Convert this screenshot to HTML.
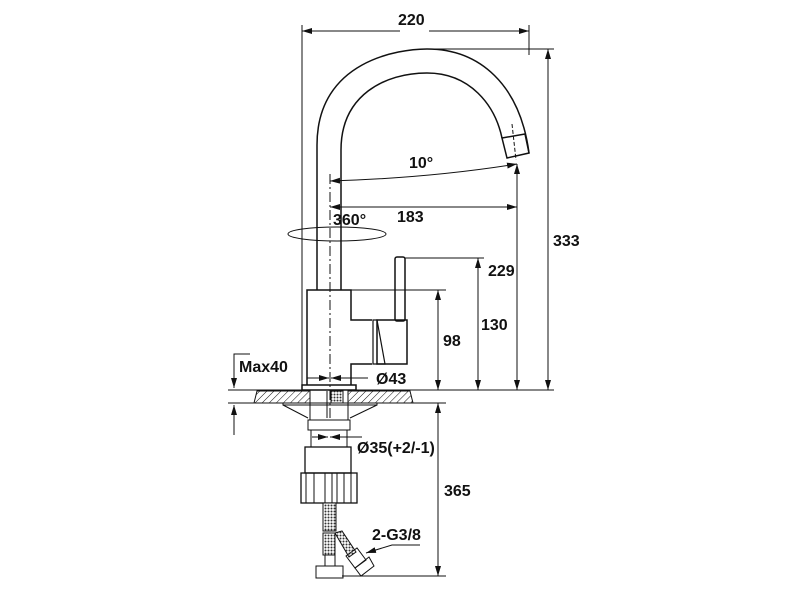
<!DOCTYPE html>
<html><head><style>html,body{margin:0;background:#fff}svg{display:block}text{font-family:"Liberation Sans",sans-serif;font-weight:bold;font-size:16px;fill:#111}</style></head><body>
<svg width="800" height="600" viewBox="0 0 800 600" xmlns="http://www.w3.org/2000/svg">
<defs>
<marker id="a" viewBox="0 0 10 6" refX="10" refY="3" markerWidth="10" markerHeight="6" orient="auto-start-reverse" markerUnits="userSpaceOnUse"><path d="M0,0L10,3L0,6z" fill="#111"/></marker>
<pattern id="h" width="5" height="5" patternUnits="userSpaceOnUse" patternTransform="rotate(45)"><line x1="0" y1="0" x2="0" y2="5" stroke="#111" stroke-width="1"/></pattern>
<pattern id="m" width="3" height="3" patternUnits="userSpaceOnUse"><rect width="3" height="3" fill="#fff"/><circle cx="1.5" cy="1.5" r="1" fill="#333"/></pattern>
</defs>
<g stroke="#111" fill="none" stroke-width="1">
<line x1="302" y1="25" x2="302" y2="388"/>
<line x1="529" y1="25" x2="529" y2="55"/>
<line x1="427" y1="49" x2="554" y2="49"/>
<line x1="228" y1="390" x2="554" y2="390"/>
<line x1="228" y1="403" x2="446" y2="403"/>
<line x1="405" y1="258" x2="484" y2="258"/>
<line x1="351" y1="290" x2="446" y2="290"/>
<line x1="342" y1="576" x2="446" y2="576"/>
<line x1="302" y1="31" x2="400" y2="31" marker-start="url(#a)"/>
<line x1="429" y1="31" x2="529" y2="31" marker-end="url(#a)"/>
<line x1="548" y1="390" x2="548" y2="49" marker-start="url(#a)" marker-end="url(#a)"/>
<line x1="517" y1="390" x2="517" y2="164" marker-start="url(#a)" marker-end="url(#a)"/>
<line x1="478" y1="390" x2="478" y2="258" marker-start="url(#a)" marker-end="url(#a)"/>
<line x1="438" y1="390" x2="438" y2="290" marker-start="url(#a)" marker-end="url(#a)"/>
<line x1="438" y1="403" x2="438" y2="576" marker-start="url(#a)" marker-end="url(#a)"/>
<line x1="330" y1="207" x2="517" y2="207" marker-start="url(#a)" marker-end="url(#a)"/>
<path d="M330,181 Q430,178 517,164" marker-start="url(#a)" marker-end="url(#a)"/>
<line x1="330" y1="174" x2="330" y2="420" stroke-dasharray="10,3,2,3"/>
<ellipse cx="337" cy="234" rx="49" ry="7"/>
<path d="M250,354H234V388" marker-end="url(#a)"/>
<line x1="234" y1="435" x2="234" y2="405" marker-end="url(#a)"/>
<path d="M317,290V145C317,60 400,49 427,49C480,49 520,85 529,153" stroke-width="1.5"/>
<path d="M341,290V150C341,95 385,73 427,73C470,73 495,105 502,138" stroke-width="1.5"/>
<path d="M502,138L525,134L529,153L507,158Z" stroke-width="1.5"/>
<line x1="512" y1="124" x2="516" y2="160" stroke-dasharray="4,2"/>
<rect x="395" y="257" width="10" height="64" rx="2" stroke-width="1.5"/>
<path d="M307,385V290H351V320H372M351,385V364H372" stroke-width="1.5"/>
<path d="M373,320L377,320L385,364L373,364Z" stroke-width="1.2"/>
<rect x="377" y="320" width="30" height="44" stroke-width="1.5"/>
<rect x="302" y="385" width="54" height="5" stroke-width="1.5"/>
<line x1="307" y1="378" x2="329" y2="378" marker-end="url(#a)"/>
<line x1="351" y1="378" x2="331" y2="378" marker-end="url(#a)"/>
<line x1="351" y1="378" x2="368" y2="378"/>
<path d="M257,391H310V403H254Z" fill="url(#h)"/>
<path d="M348,391H410L413,403H348Z" fill="url(#h)"/>
<rect x="331" y="391" width="12" height="12" fill="url(#m)"/>
<line x1="327" y1="391" x2="327" y2="418"/>
<line x1="310" y1="391" x2="310" y2="420"/>
<line x1="348" y1="391" x2="348" y2="420"/>
<path d="M283,403V405H377V403M283,405L308,418M377,405L350,418"/>
<rect x="308" y="420" width="42" height="10"/>
<rect x="311" y="430" width="36" height="17"/>
<line x1="312" y1="437" x2="328" y2="437" marker-end="url(#a)"/>
<line x1="346" y1="437" x2="330" y2="437" marker-end="url(#a)"/>
<line x1="346" y1="437" x2="362" y2="437"/>
<rect x="305" y="447" width="46" height="26" stroke-width="1.3"/>
<rect x="301" y="473" width="56" height="30" stroke-width="1.3"/>
<path d="M306,473V503M314,473V503M325,473V503M332,473V503M337,473V503M344,473V503M351,473V503"/>
<rect x="323" y="503" width="13" height="28" fill="url(#m)"/>
<rect x="323" y="533" width="12" height="22" fill="url(#m)"/>
<path d="M335,533L342,531L356,552L349,557Z" fill="url(#m)"/>
<rect x="325" y="555" width="10" height="11"/>
<rect x="316" y="566" width="27" height="12"/>
<path d="M346,556L357,548L366,560L355,568Z"/>
<path d="M355,568L369,557L374,566L361,576Z"/>
<path d="M420,545H392L366,553" marker-end="url(#a)"/>
</g>
<text x="398" y="25">220</text>
<text x="409" y="168">10°</text>
<text x="397" y="222">183</text>
<text x="333" y="225">360°</text>
<text x="488" y="276">229</text>
<text x="481" y="330">130</text>
<text x="443" y="346">98</text>
<text x="553" y="246">333</text>
<text x="239" y="372">Max40</text>
<text x="376" y="384">Ø43</text>
<text x="357" y="453">Ø35(+2/-1)</text>
<text x="444" y="496">365</text>
<text x="372" y="540">2-G3/8</text>
</svg>
</body></html>
